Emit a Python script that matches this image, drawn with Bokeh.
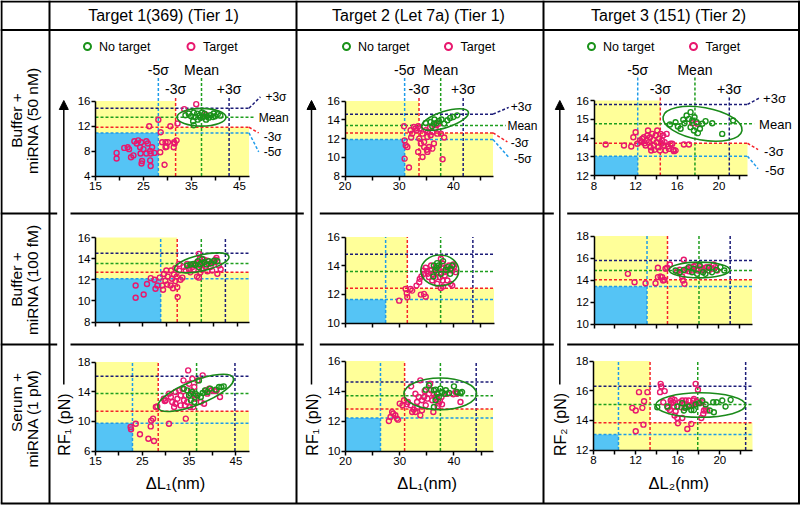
import math
from bokeh.plotting import figure
from bokeh.models import Range1d, LinearAxis, FixedTicker, Arrow, NormalHead
from bokeh.core.properties import value
from bokeh.embed import file_html
from bokeh.resources import INLINE

# ======================= DATA =======================
COL_TITLES = ["Target 1(369) (Tier 1)", "Target 2 (Let 7a) (Tier 1)", "Target 3 (151) (Tier 2)"]
ROW_LABELS = [("Buffer +", "miRNA (50 nM)"), ("Buffer +", "miRNA (100 fM)"), ("Serum +", "miRNA (1 pM)")]
X_TITLES = ["ΔL₁(nm)", "ΔL₁(nm)", "ΔL₂(nm)"]
Y_TITLES = ["RF₁ (pN)", "RF₁ (pN)", "RF₂ (pN)"]
LEGEND_NAMES = ["No target", "Target"]
SIGMA_NAMES = ["-5σ", "-3σ", "Mean", "+3σ"]   # order of every threshold list

# ---- row 1, col 1 ----
P11_XLIM, P11_YLIM = (15, 47), (4, 16)
P11_XTICKS, P11_XMINOR, P11_YTICKS = [15, 25, 35, 45], [20, 30, 40], [4, 8, 12, 16]
P11_XTHR = [28.1, 31.7, 37.1, 42.85]
P11_YTHR = [10.9, 11.8, 13.4, 14.85]
P11_ELLIPSE = (37.1, 13.4, 10.2, 2.83, 0)
P11_NOTARGET = [(33.75, 13.71), (34.45, 13.98), (34.93, 13.55), (35.49, 14.14), (35.84, 13.44), (36.18, 13.98),
                (36.74, 13.71), (36.88, 13.34), (37.43, 13.44), (37.71, 13.98), (38.26, 13.55), (38.61, 13.34),
                (38.96, 13.71), (39.51, 13.44), (40.0, 13.55), (40.49, 13.87), (41.04, 13.66), (35.35, 12.75),
                (36.32, 13.02), (37.22, 14.17), (39.65, 14.0), (38.05, 13.02), (35.49, 12.11)]
P11_TARGET = [(36.0, 15.5), (33.5, 14.7), (28.1, 13.0), (32.1, 12.4), (26.2, 11.95), (30.6, 11.95), (28.6, 11.0),
              (23.1, 9.55), (23.9, 9.7), (24.5, 9.4), (25.6, 9.55), (25.9, 9.2), (21.7, 8.6), (22.0, 8.3),
              (23.6, 9.2), (24.3, 8.6), (25.0, 8.3), (26.4, 8.0), (26.8, 8.6), (27.3, 7.7), (26.5, 7.6),
              (25.6, 7.6), (24.4, 7.6), (22.9, 7.3), (22.4, 7.0), (19.4, 7.7), (19.4, 6.8), (21.0, 8.5),
              (24.7, 6.4), (24.6, 6.0), (26.4, 6.5), (26.5, 5.6), (29.4, 5.8), (28.5, 7.8), (28.9, 9.4),
              (29.6, 9.4), (30.1, 9.4), (29.8, 8.7), (31.3, 8.6), (31.4, 9.4), (31.9, 9.7), (31.5, 9.2),
              (29.6, 8.6), (38.0, 13.8)]

# ---- row 2, col 1 ----
P21_XLIM, P21_YLIM = (15, 47.5), (8, 16)
P21_XTICKS, P21_XMINOR, P21_YTICKS = [], [15, 20, 25, 30, 35, 40, 45], [8, 10, 12, 14, 16]
P21_XTHR = [28.8, 32.3, 37.4, 42.5]
P21_YTHR = [12.1, 12.7, 13.55, 14.5]
P21_ELLIPSE = (37.5, 13.6, 11.8, 1.51, 13)
P21_NOTARGET = [(34.4, 13.35), (35.1, 13.44), (35.7, 13.5), (36.2, 13.4), (36.7, 13.75), (37.2, 13.5), (38.0, 13.66),
                (38.5, 13.44), (39.0, 13.75), (39.5, 13.56), (40.1, 13.8), (40.8, 13.75), (36.9, 13.2), (37.6, 13.97)]
P21_TARGET = [(23.5, 11.46), (23.5, 10.3), (25.2, 10.6), (25.9, 11.6), (26.7, 12.15), (27.5, 12.0), (27.7, 11.15),
              (28.1, 11.46), (28.6, 12.2), (29.1, 11.46), (29.3, 11.05), (29.5, 12.55), (29.8, 11.9), (30.3, 12.3),
              (30.2, 11.55), (30.9, 11.46), (31.2, 12.1), (31.6, 12.5), (31.9, 11.87), (32.3, 11.3), (32.4, 10.36),
              (32.2, 12.3), (32.7, 12.87), (33.0, 12.0), (33.4, 12.2), (31.0, 12.87), (31.9, 13.1), (30.0, 12.87),
              (31.4, 11.2), (33.7, 13.2), (34.1, 12.9), (34.4, 13.5), (34.8, 13.0), (35.1, 13.35), (35.5, 13.2),
              (35.8, 12.94), (36.2, 13.5), (36.5, 13.66), (36.9, 14.45), (37.1, 13.97), (37.2, 13.35), (37.6, 13.66),
              (38.0, 13.9), (38.3, 13.2), (38.7, 13.8), (39.0, 13.5), (39.4, 13.2), (39.7, 12.87), (40.1, 13.66),
              (40.4, 13.9), (40.8, 12.56), (41.1, 13.35), (41.5, 13.0), (40.6, 14.07), (36.5, 12.3), (36.9, 12.2),
              (37.2, 12.7), (37.6, 13.0), (35.1, 12.7), (38.7, 12.8), (32.7, 13.5)]

# ---- row 3, col 1 ----
P31_XLIM, P31_YLIM = (15, 47.8), (6, 18)
P31_XTICKS, P31_XMINOR, P31_YTICKS = [15, 25, 35, 45], [20, 30, 40], [6, 10, 14, 18]
P31_XTHR = [22.9, 28.4, 36.6, 44.8]
P31_YTHR = [9.74, 11.36, 13.74, 16.07]
P31_ELLIPSE = (36.4, 13.84, 17.3, 3.23, 21.5)
P31_NOTARGET = [(34.6, 14.18), (35.0, 13.5), (35.4, 13.73), (35.7, 13.95), (36.4, 13.73), (36.8, 13.5), (37.1, 15.52),
                (37.5, 13.28), (37.9, 13.82), (38.4, 14.18), (38.9, 13.95), (39.5, 14.4), (40.7, 14.27), (41.4, 14.63),
                (41.9, 14.63), (42.4, 14.72), (36.1, 12.6), (35.4, 12.83), (33.9, 14.4)]
P31_TARGET = [(22.5, 9.23), (22.6, 8.92), (23.6, 9.68), (24.5, 8.25), (26.3, 7.66), (27.5, 7.35), (26.8, 9.32),
              (26.9, 10.1), (27.3, 10.36), (27.9, 11.93), (28.2, 12.0), (29.6, 13.05), (29.8, 12.74), (30.7, 13.73),
              (31.1, 13.28), (31.4, 12.6), (31.8, 11.93), (32.1, 12.38), (32.5, 13.05), (32.9, 14.18), (33.2, 13.5),
              (33.6, 14.4), (33.8, 15.52), (33.9, 12.83), (34.1, 12.15), (34.3, 13.5), (34.6, 12.6), (34.8, 16.87),
              (35.0, 15.07), (35.2, 11.93), (35.4, 14.18), (35.7, 15.75), (35.9, 11.93), (36.1, 14.63), (36.2, 13.5),
              (36.4, 13.05), (36.8, 15.52), (37.5, 12.6), (37.9, 16.2), (38.2, 12.38), (38.6, 14.18), (38.9, 13.73),
              (39.3, 14.4), (39.8, 14.18), (40.4, 14.09), (40.9, 14.18), (41.6, 13.28), (34.3, 10.36), (30.7, 9.68),
              (32.1, 13.95), (30.0, 12.83), (33.2, 12.15)]

# ---- row 1, col 2 ----
P12_XLIM, P12_YLIM = (20, 47.3), (8, 16)
P12_XTICKS, P12_XMINOR, P12_YTICKS = [20, 30, 40], [25, 35, 45], [8, 10, 12, 14, 16]
P12_XTHR = [31.0, 33.65, 37.65, 41.8]
P12_YTHR = [11.9, 12.6, 13.4, 14.6]
P12_ELLIPSE = (38.45, 14.02, 9.06, 1.73, 18)
P12_NOTARGET = [(35.8, 13.76), (36.4, 13.59), (36.9, 13.66), (37.3, 13.87), (37.8, 14.02), (38.3, 13.59), (38.9, 13.95),
                (39.4, 14.2), (40.0, 14.3), (36.5, 14.02), (36.1, 13.3), (34.9, 13.66), (40.7, 14.47)]
P12_TARGET = [(30.9, 13.3), (31.0, 11.8), (31.2, 11.28), (31.0, 9.85), (31.5, 11.1), (31.8, 8.9), (32.1, 12.88),
              (32.4, 12.52), (32.2, 12.1), (32.7, 13.23), (33.0, 13.06), (33.2, 12.88), (33.5, 13.3), (33.8, 13.06),
              (33.7, 11.99), (34.0, 11.46), (33.5, 10.57), (34.3, 12.52), (34.6, 11.1), (34.9, 12.88), (35.2, 12.17),
              (35.3, 12.7), (35.7, 13.16), (35.8, 12.35), (36.1, 12.7), (36.4, 11.46), (36.7, 13.06), (36.9, 13.41),
              (37.0, 12.52), (37.3, 13.59), (37.7, 12.52), (38.0, 9.78), (38.3, 12.1), (35.1, 10.8), (35.2, 10.57),
              (35.5, 11.1), (36.1, 10.92), (34.6, 11.63), (34.3, 10.03)]

# ---- row 2, col 2 ----
P22_XLIM, P22_YLIM = (20, 47.5), (10, 16)
P22_XTICKS, P22_XMINOR, P22_YTICKS = [], [20, 25, 30, 35, 40, 45], [10, 12, 14, 16]
P22_XTHR = [27.5, 31.5, 37.65, 43.6]
P22_YTHR = [11.64, 12.43, 13.6, 14.79]
P22_ELLIPSE = (37.5, 13.67, 7.0, 2.15, 0)
P22_NOTARGET = [(36.4, 14.01), (36.9, 13.85), (36.7, 13.66), (37.0, 14.18), (37.3, 14.01), (38.1, 14.32), (38.6, 13.71),
                (38.9, 13.9), (39.5, 13.78), (39.8, 14.01), (39.4, 13.43), (37.7, 13.43), (36.3, 13.24)]
P22_TARGET = [(30.0, 11.56), (31.2, 12.38), (31.5, 11.8), (31.4, 12.08), (32.1, 12.38), (32.4, 12.26), (34.0, 11.98),
              (34.6, 12.03), (34.9, 11.84), (33.2, 12.61), (33.7, 12.85), (33.8, 13.08), (34.1, 13.24), (34.6, 13.43),
              (34.5, 13.66), (34.9, 13.85), (35.3, 13.43), (35.5, 13.2), (35.8, 13.66), (36.1, 12.96), (36.4, 13.38),
              (36.7, 13.15), (37.0, 13.55), (37.3, 13.78), (37.7, 14.48), (37.8, 13.9), (37.5, 13.2), (38.0, 12.96),
              (38.1, 12.54), (38.3, 13.55), (38.0, 14.13), (38.4, 13.31), (38.9, 13.66), (39.2, 14.01), (39.5, 13.78),
              (39.8, 13.66), (40.0, 14.08), (40.1, 13.9), (40.4, 13.55), (39.5, 12.73), (39.8, 12.61), (38.9, 12.96),
              (35.9, 14.01), (35.2, 13.62), (36.6, 13.66), (37.0, 12.73), (37.7, 12.45)]

# ---- row 3, col 2 ----
P32_XLIM, P32_YLIM = (20, 47.2), (10, 16)
P32_XTICKS, P32_XMINOR, P32_YTICKS = [20, 30, 40], [25, 35, 45], [10, 12, 14, 16]
P32_XTHR = [26.45, 30.9, 37.5, 44.1]
P32_YTHR = [12.2, 12.8, 13.69, 14.6]
P32_ELLIPSE = (37.47, 13.81, 13.4, 2.11, 0)
P32_NOTARGET = [(34.8, 14.09), (35.4, 14.38), (36.3, 14.05), (36.6, 14.09), (36.9, 13.82), (37.2, 13.6), (37.8, 13.93),
                (38.3, 13.82), (38.5, 14.05), (39.1, 13.87), (40.0, 14.31), (40.6, 13.93), (41.2, 13.87), (41.5, 13.93),
                (36.6, 13.38), (36.3, 12.93), (37.5, 14.16)]
P32_TARGET = [(28.0, 12.0), (28.3, 12.27), (28.6, 12.6), (28.8, 12.49), (29.2, 12.38), (29.5, 12.16), (29.7, 12.09),
              (30.0, 13.16), (30.5, 13.05), (30.8, 13.38), (31.3, 13.11), (31.5, 13.27), (32.1, 14.31), (32.3, 12.6),
              (32.6, 12.76), (32.9, 13.82), (33.2, 13.27), (33.5, 13.6), (33.8, 14.71), (34.1, 13.38), (34.5, 13.6),
              (34.6, 14.0), (34.8, 13.05), (35.1, 13.49), (35.4, 13.82), (35.6, 14.49), (35.8, 14.05), (36.0, 13.38),
              (36.2, 12.6), (36.3, 13.78), (36.6, 13.6), (36.8, 13.49), (36.9, 13.82), (37.0, 12.98), (37.2, 13.16),
              (37.4, 13.33), (37.7, 13.6), (37.8, 13.11), (33.8, 12.38), (34.1, 12.71), (32.9, 12.6), (33.2, 12.89),
              (32.0, 13.05), (38.8, 13.82), (40.3, 13.93), (40.6, 13.82), (41.2, 13.27), (39.9, 13.78)]

# ---- row 1, col 3 ----
P13_XLIM, P13_YLIM = (8, 22.75), (12, 16)
P13_XTICKS, P13_XMINOR, P13_YTICKS = [8, 12, 16, 20], [10, 14, 18, 22], [12, 13, 14, 15, 16]
P13_XTHR = [12.2, 14.37, 17.7, 21.0]
P13_YTHR = [13.03, 13.72, 14.76, 15.79]
P13_ELLIPSE = (18.43, 14.76, 7.7, 1.74, -10)
P13_NOTARGET = [(15.3, 14.72), (15.84, 14.84), (16.06, 14.61), (16.32, 14.49), (16.58, 14.97), (16.7, 14.79),
                (16.9, 15.2), (17.12, 15.02), (17.28, 15.38), (17.44, 14.93), (17.66, 15.11), (17.86, 14.84),
                (17.98, 14.26), (18.18, 14.49), (18.4, 14.76), (18.72, 14.9), (19.36, 14.79), (20.32, 14.22),
                (21.37, 14.93), (17.28, 14.58), (17.6, 14.4)]
P13_TARGET = [(9.12, 13.65), (10.88, 13.6), (11.58, 13.55), (11.78, 14.04), (12.0, 14.31), (12.16, 13.69),
              (12.42, 13.87), (12.55, 13.78), (12.64, 13.96), (12.8, 14.04), (12.87, 13.72), (12.96, 13.6),
              (13.06, 13.87), (13.12, 14.13), (13.19, 14.4), (13.28, 13.78), (13.38, 14.04), (13.44, 13.51),
              (13.5, 13.33), (13.6, 14.22), (13.7, 13.9), (13.76, 13.6), (13.83, 13.37), (13.92, 14.13),
              (14.02, 13.78), (14.08, 14.4), (14.15, 13.51), (14.24, 13.96), (14.34, 13.33), (14.4, 14.22),
              (14.47, 13.69), (14.56, 13.87), (14.66, 14.13), (14.72, 13.6), (14.79, 13.78), (14.88, 13.33),
              (14.98, 14.22), (15.1, 13.55), (15.2, 13.42), (15.36, 13.69), (15.52, 13.69), (15.62, 13.37),
              (15.68, 13.3), (15.84, 13.33), (17.12, 13.65), (17.44, 14.79), (17.92, 14.76), (16.64, 13.65)]

# ---- row 2, col 3 ----
P23_XLIM, P23_YLIM = (8, 23.2), (10, 18)
P23_XTICKS, P23_XMINOR, P23_YTICKS = [], [8, 10, 12, 14, 16, 18, 20, 22], [10, 12, 14, 16, 18]
P23_XTHR = [13.1, 15.07, 18.1, 21.1]
P23_YTHR = [13.4, 14.02, 14.87, 15.78]
P23_ELLIPSE = (18.14, 14.91, 5.85, 1.43, 0)
P23_NOTARGET = [(15.84, 14.86), (16.25, 14.71), (16.64, 14.92), (17.12, 15.17), (17.44, 14.71), (17.6, 15.02),
                (17.92, 14.56), (18.17, 15.32), (18.49, 14.71), (18.72, 14.56), (19.04, 15.11), (19.36, 14.71),
                (19.77, 14.92), (20.16, 15.17), (20.54, 14.86)]
P23_TARGET = [(11.26, 14.56), (11.9, 13.8), (12.96, 13.71), (13.92, 13.71), (14.15, 15.11), (14.15, 14.26),
              (14.4, 14.32), (14.56, 14.26), (14.65, 13.95), (14.78, 14.01), (14.88, 15.02), (15.04, 15.11),
              (15.3, 15.41), (16.0, 14.8), (16.25, 14.93), (16.48, 14.32), (16.57, 13.95), (16.64, 15.84),
              (16.7, 13.65), (16.8, 14.86), (16.96, 15.02), (17.12, 14.8), (17.28, 15.11), (17.44, 14.86),
              (17.6, 15.23), (17.76, 15.32), (17.86, 15.02), (17.99, 14.86), (18.24, 15.17), (18.4, 15.02),
              (18.56, 14.86), (18.72, 15.11), (18.88, 15.17), (19.04, 14.86), (19.13, 15.17), (19.36, 15.02),
              (19.52, 15.41), (19.68, 15.17), (19.84, 14.86)]

# ---- row 3, col 3 ----
P33_XLIM, P33_YLIM = (8, 23.1), (12, 18)
P33_XTICKS, P33_XMINOR, P33_YTICKS = [8, 12, 16, 20], [10, 14, 18, 22], [12, 14, 16, 18]
P33_XTHR = [10.37, 13.37, 17.9, 22.45]
P33_YTHR = [13.04, 13.83, 15.07, 16.29]
P33_ELLIPSE = (18.17, 15.03, 8.53, 1.65, 0)
P33_NOTARGET = [(14.06, 14.88), (15.01, 14.93), (15.96, 14.93), (16.43, 15.16), (16.59, 14.66), (16.75, 14.84),
                (17.06, 14.93), (17.29, 14.7), (17.7, 15.07), (18.01, 15.16), (18.33, 15.34), (18.65, 15.07),
                (19.06, 14.66), (19.37, 15.22), (19.69, 15.22), (20.23, 15.34), (20.54, 14.93), (21.02, 15.38),
                (19.43, 14.55), (17.54, 14.7)]
P33_TARGET = [(11.69, 14.84), (12.01, 14.66), (12.01, 13.26), (12.32, 15.9), (12.64, 14.84), (12.74, 13.71),
              (12.8, 15.29), (13.12, 15.9), (14.32, 15.9), (14.38, 16.46), (14.44, 16.28), (14.76, 15.97),
              (14.63, 15.22), (15.07, 14.84), (15.26, 14.7), (15.33, 15.34), (15.39, 15.16), (15.48, 15.45),
              (15.58, 15.22), (15.64, 14.93), (15.7, 15.38), (15.8, 14.61), (15.96, 14.16), (16.02, 13.8),
              (16.21, 15.22), (16.34, 14.88), (16.43, 15.34), (16.59, 15.11), (16.65, 14.84), (16.75, 15.34),
              (16.91, 13.42), (17.06, 15.34), (17.16, 15.0), (17.29, 13.76), (17.38, 15.0), (17.48, 15.34),
              (17.54, 15.45), (17.61, 15.11), (17.7, 16.46), (17.79, 15.29), (17.92, 16.06), (18.11, 15.16),
              (18.24, 14.16), (18.33, 15.22), (18.42, 14.43), (18.49, 14.66), (18.65, 14.77), (18.8, 14.66),
              (15.7, 14.32), (16.43, 14.16)]

PANELS = {}
for _r in range(3):
    for _c in range(3):
        _k = f"P{_r + 1}{_c + 1}_"
        g = globals()
        PANELS[(_r, _c)] = dict(xlim=g[_k + "XLIM"], ylim=g[_k + "YLIM"], xticks=g[_k + "XTICKS"],
                                xminor=g[_k + "XMINOR"], yticks=g[_k + "YTICKS"], xthr=g[_k + "XTHR"],
                                ythr=g[_k + "YTHR"], ell=g[_k + "ELLIPSE"], nt=g[_k + "NOTARGET"],
                                t=g[_k + "TARGET"])

# ======================= LAYOUT / STYLE =======================
W, H = 800, 505
FONT = "Liberation Sans"
YELLOW, SKY = "#FFFF99", "#55C4F5"
THR_COLORS = ["#1E9BEA", "#F52229", "#1E9E1E", "#1C1C78"]   # -5σ, -3σ, mean, +3σ
PINK, GREENPT, ELLC = "#E8186E", "#1A921A", "#1A8A1A"

# data-area box of each panel in page px: left, right, top, bottom
BOX = {(0, 0): (95, 248.5, 100.5, 175.5), (1, 0): (95, 248.5, 237, 321.5), (2, 0): (95, 248.5, 361.5, 450.5),
       (0, 1): (344.5, 492.5, 100.5, 175.5), (1, 1): (344.5, 493.5, 236.5, 322.5), (2, 1): (345, 492.5, 360.5, 450.5),
       (0, 2): (593.5, 747, 100, 175), (1, 2): (593.5, 751.5, 235.5, 323.5), (2, 2): (593, 752, 360.5, 449.5)}
# right-side connector ends / label offsets (px) for the top row: (end_dx, end_dy, lab_dx, lab_dy)
RIGHT = {0: [(9.7, 19, 14.7, 19), (9.7, 5.7, 14.7, 9.7), (6.4, 0, 9.7, 0.3), (11.4, -11.3, 16.4, -10.7)],
         1: [(15.7, 17.7, 20.7, 19.7), (14.4, 9, 17.7, 10.3), (12.7, 0, 14.4, 1), (15.7, -6.7, 17.7, -6.7)],
         2: [(10.6, 12.6, 17.6, 14.3), (10.6, 6.3, 16.6, 8), (6.6, 0, 11.6, 0.7), (12.3, -6.7, 15.6, -5.7)]}
RIGHT_FS = {0: "12px", 1: "12px", 2: "13px"}
COL_X = [49, 296, 543]
ARROW_X = [63.3, 311, 559.3]
LEG = [(87, 190.5), (346, 448), (591, 693)]
HEAD_X = [163, 418, 668]
XT_X = [175, 426.7, 678.3]
TOP_LINE1, TOP_LINE2, TOP_EXT = 69, 88, 77

p = figure(width=W, height=H, x_range=Range1d(0, W), y_range=Range1d(H, 0),
           x_axis_type=None, y_axis_type=None, output_backend="svg", toolbar_location=None,
           min_border=0, min_border_left=0, min_border_right=0, min_border_top=0, min_border_bottom=0)
p.outline_line_color = None
p.background_fill_color = "white"
p.border_fill_color = "white"

xr, yr, SC = {}, {}, {}
for (r, c), P in PANELS.items():
    (xmin, xmax), (ymin, ymax) = P["xlim"], P["ylim"]
    left, right, top, bottom = BOX[(r, c)]
    sx = (right - left) / (xmax - xmin)
    sy = (bottom - top) / (ymax - ymin)
    SC[(r, c)] = (sx, sy)
    xr[f"x{r}{c}"] = Range1d(xmin - left / sx, xmin + (W - left) / sx)
    yr[f"y{r}{c}"] = Range1d(ymin - (H - bottom) / sy, ymin + bottom / sy)
p.extra_x_ranges = xr
p.extra_y_ranges = yr

DASH = dict(line_dash="3 2", line_width=1.5)

for (r, c), P in PANELS.items():
    (xmin, xmax), (ymin, ymax) = P["xlim"], P["ylim"]
    left, right, top, bottom = BOX[(r, c)]
    sx, sy = SC[(r, c)]
    kw = dict(x_range_name=f"x{r}{c}", y_range_name=f"y{r}{c}")
    x5, x3, xm, xp = P["xthr"]
    y5, y3, ym, yp = P["ythr"]
    p.quad(left=[xmin, x3], right=[x3, xmax], bottom=[ymin, ymin], top=[ymax, y3],
           fill_color=YELLOW, line_color=None, **kw)
    p.quad(left=[xmin], right=[x5], bottom=[ymin], top=[y5], fill_color=SKY, line_color=None, **kw)
    if r == 0:
        hi = ymax + (top - TOP_EXT) / sy
        tops = [hi, ymax + 3 / sy, hi, ymax + 3 / sy]
    else:
        tops = [ymax] * 4
    p.segment(x0=P["xthr"], y0=[ymin] * 4, x1=P["xthr"], y1=tops, line_color=THR_COLORS, **DASH, **kw)
    x1s = [xmax] * 4
    if r == 0:
        x1s[2] = xmax + RIGHT[c][2][0] / sx
    p.segment(x0=[xmin] * 4, y0=P["ythr"], x1=x1s, y1=P["ythr"], line_color=THR_COLORS, **DASH, **kw)
    if r == 0:
        idx = [0, 1, 3]
        p.segment(x0=[xmax] * 3, y0=[P["ythr"][i] for i in idx],
                  x1=[xmax + RIGHT[c][i][0] / sx for i in idx],
                  y1=[P["ythr"][i] - RIGHT[c][i][1] / sy for i in idx],
                  line_color=[THR_COLORS[i] for i in idx], **DASH, **kw)
        p.text(x=[xmax + RIGHT[c][i][2] / sx for i in range(4)],
               y=[P["ythr"][i] - RIGHT[c][i][3] / sy for i in range(4)],
               text=SIGMA_NAMES, text_font=value(FONT), text_font_size=RIGHT_FS[c],
               text_align="left", text_baseline="middle", text_color="black", **kw)
        l1 = ymax + (top - TOP_LINE1) / sy
        l2 = ymax + (top - TOP_LINE2) / sy
        p.text(x=P["xthr"], y=[l1, l2, l1, l2],
               text=SIGMA_NAMES, text_font=value(FONT), text_font_size="14px",
               text_align="center", text_baseline="middle", text_color="black", **kw)
    tx, ty = zip(*P["t"])
    p.scatter(x=list(tx), y=list(ty), size=5, line_color=PINK, line_width=1.4, fill_color=None, **kw)
    nx, ny = zip(*P["nt"])
    p.scatter(x=list(nx), y=list(ny), size=5, line_color=GREENPT, line_width=1.4, fill_color=None, **kw)
    cx, cy, ew, eh, ea = P["ell"]
    p.ellipse(x=[cx], y=[cy], width=[ew], height=[eh], angle=[math.radians(ea)],
              fill_color=None, line_color=ELLC, line_width=1.6, **kw)
    xa = LinearAxis(fixed_location=ymin, bounds=(xmin, xmax),
                    ticker=FixedTicker(ticks=P["xticks"], minor_ticks=P["xminor"]), **kw)
    ya = LinearAxis(fixed_location=xmin, bounds=(ymin, ymax),
                    ticker=FixedTicker(ticks=P["yticks"], minor_ticks=[]), **kw)
    for a in (xa, ya):
        a.axis_line_width = 1.5
        a.axis_line_color = "black"
        a.major_tick_line_color = "black"
        a.minor_tick_line_color = "black"
        a.major_tick_line_width = 1.5
        a.minor_tick_line_width = 1.5
        a.major_tick_out = 4
        a.major_tick_in = 0
        a.minor_tick_out = 4
        a.minor_tick_in = 0
        a.major_label_text_font = FONT
        a.major_label_text_font_size = "11.5px"
        a.major_label_text_color = "black"
    xa.major_label_standoff = 2
    ya.major_label_standoff = 1
    p.add_layout(xa, "below")
    p.add_layout(ya, "left")

# ---------------- table lines ----------------
LW = 2
p.segment(x0=[0, 0], y0=[1, 29.5], x1=[W, W], y1=[1, 29.5], line_color="black", line_width=LW)
p.segment(x0=[1] + COL_X + [798.5], y0=[0] * 5, x1=[1] + COL_X + [798.5], y1=[503] * 5,
          line_color="black", line_width=LW)
for yy in (213, 344):
    p.segment(x0=[0, 70, 319.3, 566.7], y0=[yy] * 4, x1=[56.7, 303.3, 553.3, W], y1=[yy] * 4,
              line_color="black", line_width=LW)
p.segment(x0=[0], y0=[503], x1=[W], y1=[503], line_color="black", line_width=LW)

p.text(x=HEAD_X, y=[14.5] * 3, text=COL_TITLES, text_font=value(FONT), text_font_size="16px",
       text_align="center", text_baseline="middle", text_color="black")
rl_x, rl_y, rl_t = [], [], []
for i, (a, b) in enumerate(ROW_LABELS):
    ya_, yb_ = [(120, 120), (279, 279), (402, 418)][i]
    rl_x += [16, 32]
    rl_y += [ya_, yb_]
    rl_t += [a, b]
p.text(x=rl_x, y=rl_y, text=rl_t, angle=math.pi / 2, text_font=value(FONT), text_font_size="15.5px",
       text_align="center", text_baseline="middle", text_color="black")

for c in range(3):
    gx, px_ = LEG[c]
    p.scatter(x=[gx], y=[46], size=7, line_color=GREENPT, line_width=2, fill_color=None)
    p.scatter(x=[px_], y=[46], size=7, line_color=PINK, line_width=2, fill_color=None)
    p.text(x=[gx + 11.5, px_ + 12], y=[46.5, 46.5], text=LEGEND_NAMES, text_font=value(FONT),
           text_font_size="12.5px", text_align="left", text_baseline="middle", text_color="black")

for c in range(3):
    p.add_layout(Arrow(end=NormalHead(size=9, line_color="black", fill_color="black", line_width=1),
                       x_start=ARROW_X[c], y_start=384, x_end=ARROW_X[c], y_end=100,
                       line_width=1.5, line_color="black"))
p.text(x=[a + 0.5 for a in ARROW_X], y=[424] * 3, text=Y_TITLES, angle=math.pi / 2, text_font=value(FONT),
       text_font_size="16px", text_align="center", text_baseline="middle", text_color="black")
p.text(x=XT_X, y=[482] * 3, text=X_TITLES, text_font=value(FONT), text_font_size="16.5px",
       text_align="center", text_baseline="middle", text_color="black")

open("out.html", "w").write(file_html(p, INLINE))
